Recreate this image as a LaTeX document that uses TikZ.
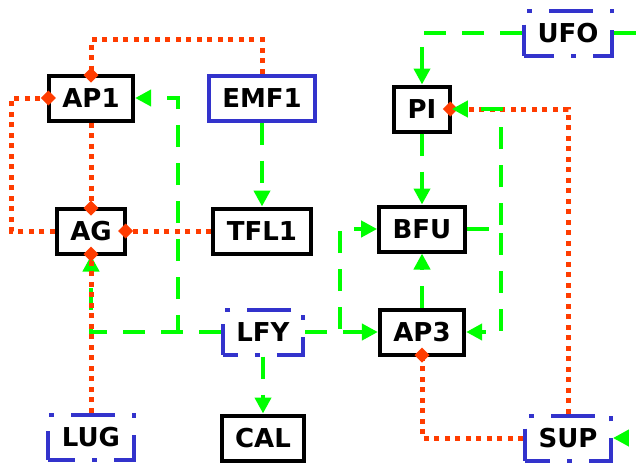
\documentclass[tikz,border=0pt]{standalone}
\usepackage{fontspec}
\setmainfont{DejaVu Sans}
\usetikzlibrary{arrows.meta}
\definecolor{actgreen}{RGB}{0,255,0}
\definecolor{repred}{RGB}{255,60,0}
\definecolor{geneblue}{RGB}{51,51,204}
\tikzset{
    gene/.style={draw=black, line width=4pt, fill=white, minimum height=45pt,
        inner xsep=13.5pt, inner ysep=0pt, font=\fontsize{26}{30}\selectfont\bfseries},
    signal/.style={gene, draw=geneblue},
    factor/.style={gene, draw=geneblue, dash pattern=on 44pt off 17pt on 5pt off 17pt, dash phase=#1},
    factor/.default=17pt,
    act/.style={draw=actgreen, line width=4.5pt, dash pattern=on 22pt off 16pt,
        -{Triangle[length=16pt,width=16pt]}},
    rep/.style={draw=repred, line width=5pt, dash pattern=on 5pt off 5.5pt,
        -{Diamond[length=15pt,width=15pt]}, shorten >=-9pt},
}
\begin{document}
\begin{tikzpicture}[x=1pt, y=-1pt]
    \useasboundingbox (0,0) rectangle (642,464);
    \clip (0,0) rectangle (642,464);

    % 基因
    \node[gene]   (AP1)  at (91,98)   {AP1};
    \node[signal] (EMF1) at (262,98)  {EMF1};
    \node[gene]   (AG)   at (91,231)  {AG};
    \node[gene]   (TFL1) at (262,231) {TFL1};
    \node[factor=29pt] (LFY) at (263,332) {LFY};
    \node[factor] (LUG)  at (91,437)  {LUG};
    \node[gene]   (CAL)  at (263,438) {CAL};
    \node[gene]   (PI)   at (422,109) {PI};
    \node[gene]   (BFU)  at (422,229) {BFU};
    \node[gene]   (AP3)  at (422,332) {AP3};
    \node[factor=14pt] (UFO) at (568,33) {UFO};
    \node[factor=19pt] (SUP) at (568,438) {SUP};
    \coordinate (out) at (665,33);

    % 抑制
    \draw[rep] (EMF1.north) -- ++(0,-34) -| (AP1.north);
    \draw[rep] (AP1) -- (AG);
    \draw[rep] (AG.west) -- ++(-43,0) |- (AP1.west);
    \draw[rep] (TFL1) -- (AG);
    \draw[rep] (SUP.north) |- (PI.east);
    \draw[rep] (SUP.west) -| (AP3.south);

    % 激活
    \draw[act] (EMF1) -- (TFL1);
    \draw[act] (LFY) -- (CAL);
    \draw[act] (LFY) -- (AP3);
    \draw[act] (LFY.east) -- ++(35,0) |- (BFU.west);
    \draw[act] (LFY.west) -| (AG.south);
    \draw[act] (LFY.west) -- ++(-43,0) |- (AP1.east);
    \draw[act] (UFO.west) -| (PI.north);
    \draw[act] (PI) -- (BFU);
    \draw[act] (AP3) -- (BFU);
    \draw[act] (BFU.east) -- ++(34,0) |- (PI.east);
    \draw[act] (BFU.east) -- ++(34,0) |- (AP3.east);
    \draw[act] (UFO.east) -- (out) |- (SUP.east);

    % LUG 抑制 AG, 画在绿线上面
    \draw[rep] (LUG) -- (AG);
\end{tikzpicture}
\end{document}
